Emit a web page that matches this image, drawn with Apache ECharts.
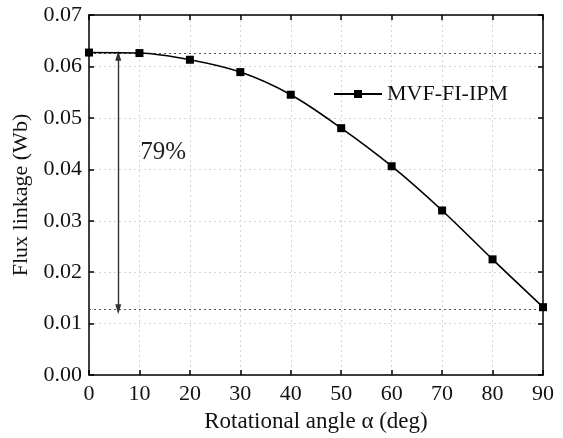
<!DOCTYPE html>
<html>
<head>
<meta charset="utf-8">
<script src="https://cdn.jsdelivr.net/npm/echarts@6/dist/echarts.min.js"></script>
<style>
  html, body { margin: 0; padding: 0; background: #fff; }
  #chart { width: 563px; height: 438px; }
</style>
</head>
<body>
<div id="chart"></div>
<script>
// Flux linkage versus rotational angle
const angles = [0, 10, 20, 30, 40, 50, 60, 70, 80, 90];
const flux = [0.0627, 0.0626, 0.0613, 0.0589, 0.0545, 0.0480, 0.0406, 0.0320, 0.0225, 0.0132];
const seriesName = 'MVF-FI-IPM';
const xTicks = [0, 10, 20, 30, 40, 50, 60, 70, 80, 90];
const yTicks = [0.00, 0.01, 0.02, 0.03, 0.04, 0.05, 0.06, 0.07];

// Reference levels and annotation
const fluxMax = 0.0626;
const fluxMin = 0.0128;
const arrowAngle = 5.8;
const arrowTop = 0.0621;
const reductionText = '79%';
const reductionPos = [14.7, 0.0432];

const font = 'Liberation Serif, Times New Roman, serif';
const chart = echarts.init(document.getElementById('chart'));

const axisCommon = {
  min: 0,
  axisLine: { show: true, onZero: false, lineStyle: { color: '#000', width: 1.5 } },
  axisTick: { show: true, inside: true, length: 5, lineStyle: { color: '#000', width: 1.5 } },
  splitLine: { show: false }
};
const gridLine = { show: true, lineStyle: { color: '#d4d4d4', type: [2, 3], width: 1 } };

chart.setOption({
  animation: false,
  backgroundColor: '#fff',
  grid: { left: 89, right: 20, top: 15, bottom: 58, containLabel: false },
  legend: {
    data: [seriesName],
    left: 328, top: 78,
    itemWidth: 48, itemHeight: 10,
    textStyle: { fontFamily: font, fontSize: 22, color: '#111' }
  },
  xAxis: [
    Object.assign({}, axisCommon, {
      type: 'value', max: 90, interval: 10, position: 'bottom',
      name: 'Rotational angle α (deg)', nameLocation: 'middle', nameGap: 32,
      nameTextStyle: { fontFamily: font, fontSize: 23, color: '#111' },
      axisLabel: { fontFamily: font, fontSize: 22, color: '#111', margin: 8,
        formatter: v => xTicks.includes(v) ? String(v) : '' },
      splitLine: gridLine
    }),
    Object.assign({}, axisCommon, {
      type: 'value', max: 90, interval: 10, position: 'top',
      axisLabel: { show: false }
    })
  ],
  yAxis: [
    Object.assign({}, axisCommon, {
      type: 'value', max: 0.07, interval: 0.01, position: 'left',
      name: 'Flux linkage (Wb)', nameLocation: 'middle', nameGap: 55, nameRotate: 90,
      nameTextStyle: { fontFamily: font, fontSize: 22, color: '#111' },
      axisLabel: { fontFamily: font, fontSize: 22, color: '#111', margin: 7,
        formatter: v => yTicks.find(t => Math.abs(t - v) < 1e-9) !== undefined ? v.toFixed(2) : '' },
      splitLine: gridLine
    }),
    Object.assign({}, axisCommon, {
      type: 'value', max: 0.07, interval: 0.01, position: 'right',
      axisLabel: { show: false }
    })
  ],
  series: [
    {
      name: seriesName,
      type: 'line',
      data: angles.map((a, i) => [a, flux[i]]),
      smooth: 0.35,
      symbol: 'rect',
      symbolSize: 8,
      lineStyle: { color: '#000', width: 1.6 },
      itemStyle: { color: '#000' },
      z: 5,
      markLine: {
        silent: true,
        symbol: ['none', 'none'],
        label: { show: false },
        lineStyle: { color: '#555', type: [2, 3], width: 1 },
        data: [
          [{ coord: [0, fluxMax] }, { coord: [90, fluxMax] }],
          [{ coord: [0, fluxMin] }, { coord: [90, fluxMin] }],
          [
            { coord: [arrowAngle, arrowTop], symbol: 'triangle', symbolSize: [6, 10],
              lineStyle: { color: '#333', type: 'solid', width: 1.4 } },
            { coord: [arrowAngle, fluxMin], symbol: 'triangle', symbolSize: [6, 10],
              lineStyle: { color: '#333', type: 'solid', width: 1.4 } }
          ]
        ]
      },
      markPoint: {
        silent: true,
        symbol: 'circle', symbolSize: 1,
        itemStyle: { color: 'rgba(0,0,0,0)' },
        label: { show: true, position: 'inside', fontFamily: font, fontSize: 25, color: '#222',
          formatter: () => reductionText },
        data: [{ coord: reductionPos }]
      }
    }
  ]
});
</script>
</body>
</html>
